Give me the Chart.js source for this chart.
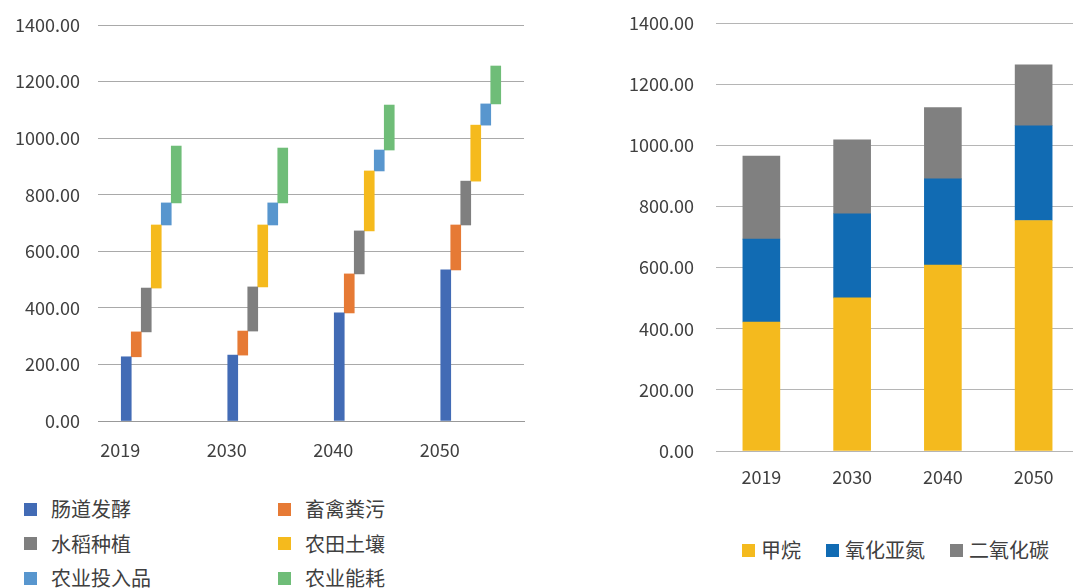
<!DOCTYPE html>
<html>
<head>
<meta charset="utf-8">
<script src="https://cdn.jsdelivr.net/npm/chart.js@4/dist/chart.umd.min.js"></script>
<style>
  html,body{margin:0;padding:0;background:#fff;overflow:hidden;width:1073px;height:588px;}
  body{position:relative;font-family:"Noto Sans CJK SC","Noto Sans",sans-serif;color:#404040;}
  #leftBox{position:absolute;left:0;top:0;width:545px;height:470px;}
  #rightBox{position:absolute;left:610px;top:0;width:470px;height:500px;}
  .legend-left{position:absolute;left:24px;top:492px;display:grid;grid-template-columns:254px 254px;grid-auto-rows:34.5px;}
  .legend-right{position:absolute;left:742px;top:536px;display:flex;gap:25px;}
  .item{display:flex;align-items:center;font-size:20px;line-height:28px;white-space:nowrap;}
  .box{width:13px;height:13px;display:inline-block;}
  .legend-left .box{margin-right:14px;}
  .legend-right .box{margin-right:6px;}
</style>
</head>
<body>
<div id="leftBox"><canvas id="leftChart"></canvas></div>
<div id="rightBox"><canvas id="rightChart"></canvas></div>
<div class="legend-left" id="leftLegend"></div>
<div class="legend-right" id="rightLegend"></div>
<script>
// ---------------- dados ----------------
const years = ["2019","2030","2040","2050"];

// esquerda: contribuição de cada fonte (barras flutuantes em cascata)
const sourceNames = ["肠道发酵","畜禽粪污","水稻种植","农田土壤","农业投入品","农业能耗"];
const enteric    = [227,233,382,534];
const manure     = [88,85,138,159];
const rice       = [155,156,152,155];
const soil       = [223,219,212,198];
const inputs     = [78,78,74,75];
const energy     = [201,194,159,134];
const sourceColors = ["#426BB5","#E67A35","#7F7F7F","#F5BA1D","#5896CE","#6FBD78"];

// direita: por gás (empilhado)
const gasNames = ["甲烷","氧化亚氮","二氧化碳"];
const methane  = [422,501,608,754];
const n2o      = [271,275,282,310];
const co2      = [272,242,233,199];
const gasColors = ["#F4BA1E","#116BB3","#808080"];

const yMin = 0, yMax = 1400, yStep = 200;

const FONT = "'Noto Sans CJK SC','Noto Sans',sans-serif";
Chart.defaults.font.family = FONT;
Chart.defaults.color = "#404040";
Chart.defaults.animation = false;

// eixo y: largura fixa e sem folga extra em cima/embaixo
function fixY(w){ return s=>{ s.width=w; s.paddingTop=0; s.paddingBottom=0; }; }

// ---------------- gráfico esquerdo ----------------
const sourceSeries = [enteric,manure,rice,soil,inputs,energy];
const base = years.map(()=>0);
const leftDatasets = sourceSeries.map((vals,i)=>{
  const data = vals.map((v,j)=>{ const s=base[j]; base[j]=s+v; return [s,base[j]]; });
  return {label:sourceNames[i], data, backgroundColor:sourceColors[i], barThickness:10, borderWidth:0};
});

new Chart(document.getElementById("leftChart"),{
  type:"bar",
  data:{labels:years, datasets:leftDatasets},
  options:{
    responsive:true, maintainAspectRatio:false,
    layout:{padding:{top:25,right:21,bottom:0,left:0}},
    plugins:{legend:{display:false},tooltip:{enabled:false}},
    scales:{
      x:{
        grid:{display:false,drawTicks:false},
        border:{display:true,color:"#999999",width:1},
        ticks:{font:{size:18},padding:18,labelOffset:-31,maxRotation:0},
        afterFit:s=>{s.height=49;}
      },
      y:{
        min:yMin,max:yMax,
        grid:{color:"#a9a9a9",drawTicks:false},
        border:{display:false},
        ticks:{stepSize:yStep,font:{size:18},padding:18,callback:v=>v.toFixed(2)},
        afterFit:fixY(98)
      }
    }
  }
});

// ---------------- gráfico direito ----------------
const gasSeries = [methane,n2o,co2];
const rightDatasets = gasSeries.map((vals,i)=>({
  label:gasNames[i], data:vals, backgroundColor:gasColors[i], barThickness:37, borderWidth:0
}));

new Chart(document.getElementById("rightChart"),{
  type:"bar",
  data:{labels:years, datasets:rightDatasets},
  options:{
    responsive:true, maintainAspectRatio:false,
    layout:{padding:{top:23,right:1,bottom:0,left:0}},
    plugins:{legend:{display:false},tooltip:{enabled:false}},
    scales:{
      x:{
        stacked:true,
        grid:{display:false,drawTicks:false},
        border:{display:true,color:"#b5b5b5",width:1},
        ticks:{font:{size:18},padding:15,maxRotation:0},
        afterFit:s=>{s.height=49;}
      },
      y:{
        stacked:true,min:yMin,max:yMax,
        grid:{color:"#b5b5b5",drawTicks:false},
        border:{display:false},
        ticks:{stepSize:yStep,font:{size:18},padding:22,callback:v=>v.toFixed(2)},
        afterFit:fixY(106)
      }
    }
  }
});

// ---------------- legendas ----------------
function buildLegend(el,names,colors){
  names.forEach((n,i)=>{
    const item=document.createElement("div"); item.className="item";
    const b=document.createElement("span"); b.className="box"; b.style.background=colors[i];
    const t=document.createElement("span"); t.textContent=n;
    item.appendChild(b); item.appendChild(t); el.appendChild(item);
  });
}
buildLegend(document.getElementById("leftLegend"),sourceNames,sourceColors);
buildLegend(document.getElementById("rightLegend"),gasNames,gasColors);
</script>
</body>
</html>
